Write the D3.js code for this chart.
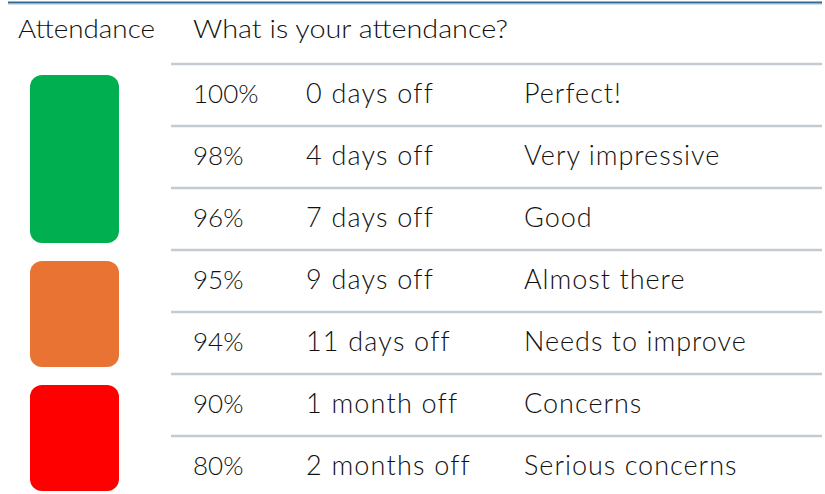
<!DOCTYPE html>
<html><head><meta charset="utf-8">
<script src="https://cdn.jsdelivr.net/npm/d3@7"></script>
<style>body{margin:0;background:#fff}svg{display:block}</style>
</head><body>
<script>
const percents = ["100%","98%","96%","95%","94%","90%","80%"];
const daysOff = ["0 days off","4 days off","7 days off","9 days off","11 days off","1 month off","2 months off"];
const verdicts = ["Perfect!","Very impressive","Good","Almost there","Needs to improve","Concerns","Serious concerns"];
const bandNames = ["green","orange","red"];
const bandFirst = [0,3,5];
const bandLast = [2,4,6];
const bandColors = ["#00b050","#e97333","#ff0000"];
const headers = ["Attendance","What is your attendance?"];

const W=825,H=494;
const svg=d3.select("body").append("svg").attr("width",W).attr("height",H);
const font="Lato, 'Open Sans', sans-serif";

const y=d3.scaleBand().domain(d3.range(percents.length)).range([64,64+62*percents.length]);

// top rule
svg.append("line").attr("x1",8).attr("x2",822).attr("y1",2.5).attr("y2",2.5).attr("stroke","#2f6994").attr("stroke-width",2);
svg.append("line").attr("x1",8).attr("x2",822).attr("y1",4.5).attr("y2",4.5).attr("stroke","#d3dde8").attr("stroke-width",1);

// headers
svg.append("text").attr("x",18).attr("y",38).text(headers[0]).attr("font-family",font).attr("font-weight",300).attr("font-size",25).attr("fill","#111").attr("textLength",137).attr("lengthAdjust","spacingAndGlyphs");
svg.append("text").attr("x",193).attr("y",38).text(headers[1]).attr("font-family",font).attr("font-weight",300).attr("font-size",25).attr("fill","#111").attr("textLength",315).attr("lengthAdjust","spacingAndGlyphs");

// row lines
svg.selectAll("line.row").data(d3.range(percents.length)).join("line")
 .attr("class","row").attr("x1",171).attr("x2",822)
 .attr("y1",i=>y(i)).attr("y2",i=>y(i))
 .attr("stroke","#c3cad3").attr("stroke-width",2.5);

// bands
svg.selectAll("rect.band").data(bandNames.map((n,i)=>i)).join("rect")
 .attr("class","band").attr("x",30).attr("width",89)
 .attr("y",i=>y(bandFirst[i])+11)
 .attr("height",i=>y(bandLast[i])+y.bandwidth()-7-(y(bandFirst[i])+11))
 .attr("rx",12).attr("fill",i=>bandColors[i]);

const cols=[{x:193,arr:percents,fs:26,ls:0},{x:306,arr:daysOff,fs:27,ls:1.2},{x:524,arr:verdicts,fs:27,ls:1}];
cols.forEach(c=>{
 svg.selectAll(null).data(c.arr).join("text")
  .attr("x",c.x).attr("y",(d,i)=>y(i)+39)
  .attr("font-family",font).attr("font-weight",300).attr("font-size",c.fs)
  .attr("letter-spacing",c.ls).attr("fill","#111")
  .text(d=>d);
});
</script>
</body></html>
